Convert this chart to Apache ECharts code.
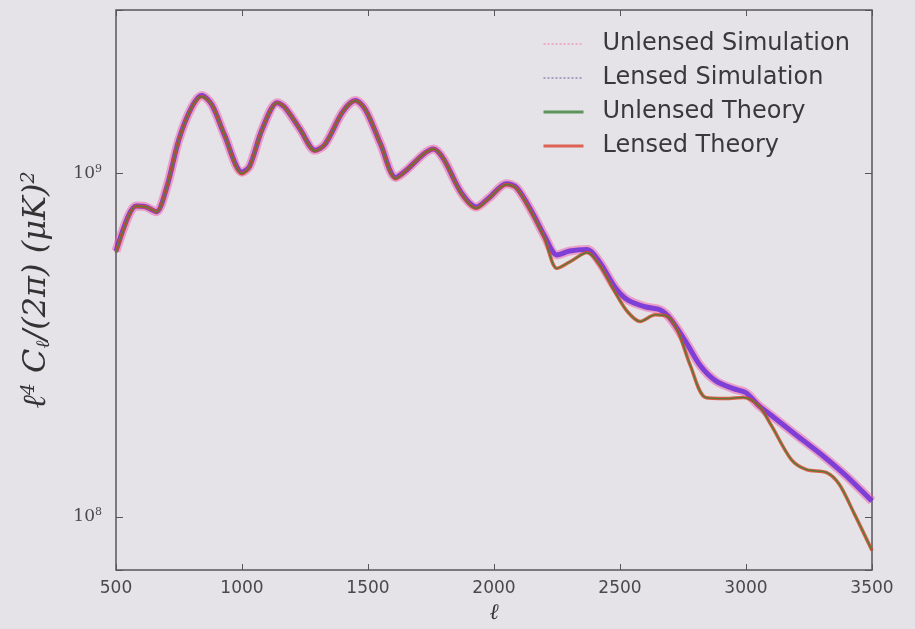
<!DOCTYPE html>
<html>
<head>
<meta charset="utf-8">
<script src="https://cdn.jsdelivr.net/npm/echarts@6/dist/echarts.min.js"></script>
<style>
html,body{margin:0;padding:0;background:#e5e3e8;}
#chart{width:915px;height:629px;}
</style>
</head>
<body>
<div id="chart"></div>
<script>
// multipole values for the theory curves
var ellTheory = [500,550,580,620,660,700,750,800,840,880,930,1000,1030,1080,1140,1170,1230,1290,1330,1400,1450,1490,1550,1610,1650,1720,1760,1800,1870,1930,1980,2050,2090,2150,2200,2250,2300,2370,2420,2480,2530,2580,2640,2690,2730,2780,2840,2920,2990,3050,3100,3180,3240,3320,3370,3430,3500];
var unlensedTheory = [5.89e8,7.52e8,8.04e8,8.00e8,7.75e8,9.06e8,1.26e9,1.56e9,1.68e9,1.59e9,1.30e9,1.00e9,1.047e9,1.347e9,1.61e9,1.56e9,1.35e9,1.164e9,1.22e9,1.517e9,1.631e9,1.537e9,1.22e9,0.967e9,1.02e9,1.14e9,1.18e9,1.104e9,0.876e9,0.793e9,0.848e9,0.930e9,0.906e9,0.767e9,0.650e9,0.530e9,0.553e9,0.589e9,0.540e9,0.452e9,0.396e9,0.371e9,0.388e9,0.383e9,0.347e9,0.275e9,0.2227e9,0.2212e9,0.2227e9,0.2112e9,0.185e9,0.1468e9,0.1373e9,0.1346e9,0.1244e9,0.102e9,0.0798e9];
var lensedTheory = [5.89e8,7.52e8,8.04e8,8.00e8,7.75e8,9.06e8,1.26e9,1.56e9,1.68e9,1.59e9,1.30e9,1.00e9,1.047e9,1.347e9,1.61e9,1.56e9,1.35e9,1.164e9,1.22e9,1.517e9,1.631e9,1.537e9,1.22e9,0.967e9,1.02e9,1.14e9,1.18e9,1.104e9,0.876e9,0.793e9,0.848e9,0.930e9,0.906e9,0.767e9,0.650e9,0.530e9,0.553e9,0.589e9,0.540e9,0.452e9,0.396e9,0.371e9,0.388e9,0.383e9,0.347e9,0.275e9,0.2227e9,0.2212e9,0.2227e9,0.2112e9,0.185e9,0.1468e9,0.1373e9,0.1346e9,0.1244e9,0.102e9,0.0798e9];

// multipole values for the simulations
var ellSim = [500,550,580,620,660,700,750,800,840,880,930,1000,1030,1080,1140,1170,1230,1290,1330,1400,1450,1490,1550,1610,1650,1720,1760,1800,1870,1930,1980,2050,2090,2150,2200,2250,2300,2370,2420,2480,2530,2600,2660,2700,2760,2820,2880,2950,3000,3050,3100,3200,3300,3400,3500];
var unlensedSim = [5.95e8,7.55e8,8.05e8,8.00e8,7.75e8,9.06e8,1.26e9,1.56e9,1.69e9,1.59e9,1.30e9,1.01e9,1.05e9,1.347e9,1.61e9,1.56e9,1.35e9,1.17e9,1.22e9,1.517e9,1.635e9,1.537e9,1.22e9,0.975e9,1.02e9,1.14e9,1.18e9,1.104e9,0.88e9,0.80e9,0.85e9,0.935e9,0.91e9,0.775e9,0.66e9,0.580e9,0.595e9,0.601e9,0.551e9,0.467e9,0.429e9,0.4095e9,0.401e9,0.378e9,0.3247e9,0.275e9,0.249e9,0.2363e9,0.230e9,0.2112e9,0.1977e9,0.173e9,0.1517e9,0.1312e9,0.1112e9];
var lensedSim = [5.95e8,7.55e8,8.05e8,8.00e8,7.75e8,9.06e8,1.26e9,1.56e9,1.69e9,1.59e9,1.30e9,1.01e9,1.05e9,1.347e9,1.61e9,1.56e9,1.35e9,1.17e9,1.22e9,1.517e9,1.635e9,1.537e9,1.22e9,0.975e9,1.02e9,1.14e9,1.18e9,1.104e9,0.88e9,0.80e9,0.85e9,0.935e9,0.91e9,0.775e9,0.66e9,0.580e9,0.595e9,0.601e9,0.551e9,0.467e9,0.429e9,0.4095e9,0.401e9,0.378e9,0.3247e9,0.275e9,0.249e9,0.2363e9,0.230e9,0.2112e9,0.1977e9,0.173e9,0.1517e9,0.1312e9,0.1112e9];

var xTicks = [500,1000,1500,2000,2500,3000,3500];
var yTicks = [1e8,1e9];
var seriesNames = ['Unlensed Simulation','Lensed Simulation','Unlensed Theory','Lensed Theory'];

function pairs(xs, ys){ return xs.map(function(x,i){ return [x, ys[i]]; }); }

var chart = echarts.init(document.getElementById('chart'), null, {renderer:'canvas'});
var frame = '#58565c';
var option = {
  backgroundColor: '#e5e3e8',
  animation: false,
  grid: {left:116, right:43, top:10, bottom:51, show:true, borderColor:frame, borderWidth:1.5, backgroundColor:'transparent'},
  legend: {
    orient:'vertical', left:537, top:27, itemWidth:40, itemHeight:14, itemGap:10,
    itemStyle:{opacity:0},
    formatter:function(n){ return '{t|' + n + '}'; },
    textStyle:{fontFamily:'DejaVu Sans', fontSize:24, color:'#3a383e',
      rich:{t:{fontFamily:'DejaVu Sans', fontSize:24, color:'#3a383e', padding:[0,0,0,14]}}},
    data:[
      {name:seriesNames[0], lineStyle:{type:'dotted', color:'#f07aa8', width:2}},
      {name:seriesNames[1], lineStyle:{type:'dotted', color:'#9a94b8', width:2}},
      {name:seriesNames[2], lineStyle:{type:'solid', color:'#4f8a4a', width:3}},
      {name:seriesNames[3], lineStyle:{type:'solid', color:'#dc4a3a', width:3}}
    ]
  },
  xAxis: [{
    type:'value', min:500, max:3500, interval:500,
    name:'ℓ', nameLocation:'middle', nameGap:32,
    nameTextStyle:{fontFamily:'DejaVu Serif', fontStyle:'italic', fontSize:22, color:'#333'},
    axisLine:{show:false}, splitLine:{show:false},
    axisTick:{inside:true, length:6, lineStyle:{color:frame}},
    axisLabel:{fontFamily:'DejaVu Sans', fontSize:17, color:'#4a484e', margin:10,
      formatter:function(v){ return xTicks.indexOf(v) >= 0 ? String(v) : ''; }}
  },{
    type:'value', position:'top', min:500, max:3500, interval:500,
    axisLine:{show:false}, splitLine:{show:false}, axisLabel:{show:false},
    axisTick:{inside:true, length:6, lineStyle:{color:frame}}
  }],
  yAxis: [{
    type:'log', logBase:10, min:7e7, max:3e9,
    name:'{a|ℓ}{s|4}{a| C}{b|ℓ}{a|/(2π) (μK)}{s|2}', nameLocation:'middle', nameGap:62, nameRotate:90,
    nameTextStyle:{
      color:'#333',
      rich:{
        a:{fontFamily:'DejaVu Serif', fontStyle:'italic', fontSize:32, color:'#333'},
        s:{fontFamily:'DejaVu Serif', fontStyle:'italic', fontSize:19, color:'#333', verticalAlign:'top', padding:[0,0,15,0]},
        b:{fontFamily:'DejaVu Serif', fontStyle:'italic', fontSize:19, color:'#333', verticalAlign:'bottom', padding:[13,0,0,0]}
      }
    },
    axisLine:{show:false}, splitLine:{show:false},
    axisTick:{inside:true, length:7, lineStyle:{color:frame}},
    axisLabel:{margin:14, color:'#4a484e',
      formatter:function(v){
        for (var i=0;i<yTicks.length;i++){ if (Math.abs(v-yTicks[i])/yTicks[i] < 1e-6) return '10{s|' + Math.round(Math.log10(v)) + '}'; }
        return '';
      },
      rich:{ s:{fontFamily:'DejaVu Serif', fontSize:11, color:'#4a484e', verticalAlign:'top', padding:[0,0,10,0]} },
      fontFamily:'DejaVu Serif', fontSize:17
    }
  },{
    type:'log', logBase:10, min:7e7, max:3e9, position:'right',
    axisLine:{show:false}, splitLine:{show:false}, axisLabel:{show:false},
    axisTick:{inside:true, length:7, lineStyle:{color:frame}}
  }],
  series: [
    {name:seriesNames[0], type:'line', symbol:'none', smooth:0.3, data:pairs(ellSim, unlensedSim),
      lineStyle:{color:'#f05aa8', width:9, opacity:0.5}, itemStyle:{color:'#f07aa8'}, z:2},
    {name:seriesNames[1], type:'line', symbol:'none', smooth:0.3, data:pairs(ellSim, lensedSim),
      lineStyle:{color:'#6a2ed8', width:5, opacity:0.85}, itemStyle:{color:'#9a94b8'}, z:3},
    {name:seriesNames[3], type:'line', symbol:'none', smooth:0.3, data:pairs(ellTheory, lensedTheory),
      lineStyle:{color:'#e0482a', width:3.5, opacity:0.85}, itemStyle:{color:'#dc4a3a'}, z:4},
    {name:seriesNames[2], type:'line', symbol:'none', smooth:0.3, data:pairs(ellTheory, unlensedTheory),
      lineStyle:{color:'#4f7a3a', width:1.6, opacity:0.9}, itemStyle:{color:'#4f8a4a'}, z:5}
  ]
};
chart.setOption(option);
</script>
</body>
</html>
